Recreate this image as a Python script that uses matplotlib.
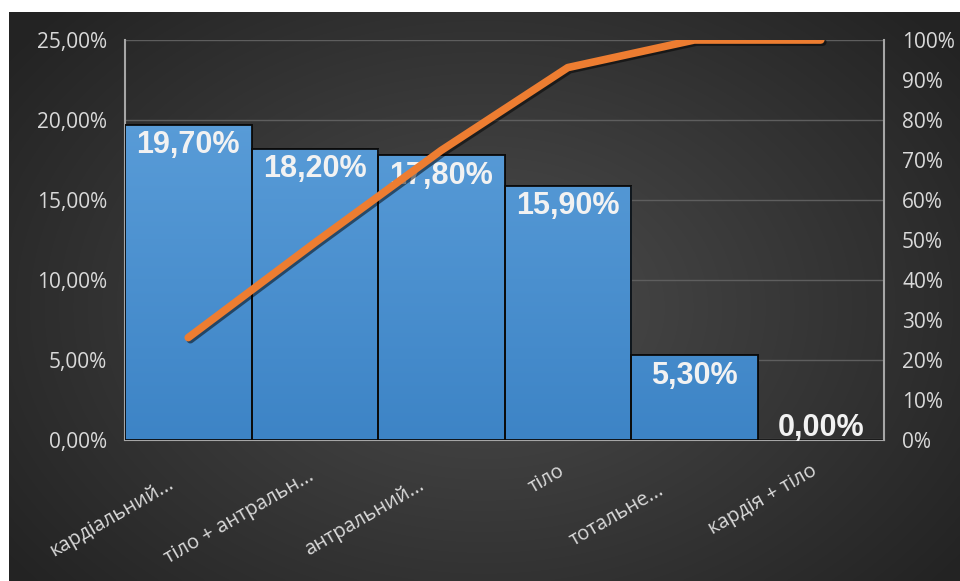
import matplotlib
matplotlib.use("Agg")
import matplotlib.pyplot as plt
import matplotlib.patheffects as pe
import matplotlib.transforms as mtransforms
import numpy as np
from matplotlib.ticker import FuncFormatter, MultipleLocator

CATEGORIES = ["кардіальний...", "тіло + антральн...", "антральний...", "тіло", "тотальне...", "кардія + тіло"]
SHARES = [19.70, 18.20, 17.80, 15.90, 5.30, 0.00]
CUMULATIVE = [25.6, 49.3, 72.4, 93.1, 100.0, 100.0]

# pixel offsets of each category label's right end from its tick (x right, y down)
LABEL_OFFSETS = [(-13, 47), (0, 39), (-16, 48), (-2, 34), (-29, 53), (-3, 34)]

TEXT_COLOR = "#d9d9d9"
AXIS_COLOR = "#a6a6a6"
GRID_COLOR = "#5e5e5e"
LINE_COLOR = "#ed7d31"
BAR_TOP = np.array([0x60, 0xa2, 0xdc]) / 255
BAR_BOTTOM = np.array([0x3d, 0x84, 0xc6]) / 255

plt.rcParams["font.family"] = ["Open Sans", "DejaVu Sans"]


def comma_pct(v, decimals=2):
    return f"{v:.{decimals}f}".replace(".", ",") + "%"


fig = plt.figure(figsize=(9.6, 5.81), dpi=100)
fig.patch.set_facecolor("white")

# dark panel with a soft radial light in the middle
bg = fig.add_axes([9 / 960, 0, 951 / 960, 569 / 581], zorder=-10)
yy, xx = np.mgrid[0:1:300j, 0:1:500j]
r = np.sqrt(((xx - 0.5) / 0.62) ** 2 + ((yy - 0.52) / 0.75) ** 2)
shade = np.clip(0.30 - 0.16 * r, 0.14, 0.30)
bg.imshow(np.dstack([shade] * 3), aspect="auto", extent=[0, 1, 0, 1], interpolation="bicubic")
bg.set_axis_off()

ax = fig.add_axes([125 / 960, 141 / 581, 759 / 960, 400 / 581])
ax.set_facecolor("none")
x = np.arange(len(CATEGORIES))
bars = ax.bar(x, SHARES, width=1.0, color=BAR_BOTTOM, edgecolor="#0b0b0b", linewidth=1.3, zorder=3)

# vertical gradient fill inside each bar
grad = np.linspace(0, 1, 256)[:, None, None]
grad_img = BAR_TOP * (1 - grad) + BAR_BOTTOM * grad
for b in bars:
    h = b.get_height()
    if h <= 0:
        continue
    x0 = b.get_x()
    im = ax.imshow(grad_img, aspect="auto", extent=[x0, x0 + b.get_width(), 0, 25], zorder=3.5,
                   interpolation="bilinear")
    im.set_clip_path(b)
    ax.bar(x0 + b.get_width() / 2, h, width=1.0, facecolor="none", edgecolor="#0b0b0b",
           linewidth=1.3, zorder=4)

for xi, v in zip(x, SHARES):
    if v > 0:
        ax.annotate(comma_pct(v), (xi, v), xytext=(0, -4), textcoords="offset points",
                    ha="center", va="top", fontsize=22, fontweight="bold",
                    family="Liberation Sans", color="#f2f2f2", zorder=6)
    else:
        ax.annotate(comma_pct(v), (xi, v), xytext=(0, -2), textcoords="offset points",
                    ha="center", va="bottom", fontsize=22, fontweight="bold",
                    family="Liberation Sans", color="#f2f2f2", zorder=6)

ax.set_xlim(-0.5, len(CATEGORIES) - 0.5)
ax.set_ylim(0, 25)
ax.yaxis.set_major_locator(MultipleLocator(5))
ax.yaxis.set_major_formatter(FuncFormatter(lambda v, _: comma_pct(v)))
ax.grid(axis="y", color=GRID_COLOR, linewidth=1.0, zorder=0)
ax.set_axisbelow(True)
ax.tick_params(axis="y", length=0, pad=13, labelsize=15, labelcolor=TEXT_COLOR)
ax.set_xticks(x)
ax.set_xticklabels([])
ax.tick_params(axis="x", length=0)

# rotated category labels, right end anchored below each tick
for xi, label, (dx, dy) in zip(x, CATEGORIES, LABEL_OFFSETS):
    trans = ax.get_xaxis_transform() + mtransforms.ScaledTranslation(dx / 100, -dy / 100, fig.dpi_scale_trans)
    ax.text(xi, 0, label, transform=trans, rotation=30, rotation_mode="anchor",
            ha="right", va="baseline", fontsize=14.5, color=TEXT_COLOR)

for side in ["top", "right"]:
    ax.spines[side].set_visible(False)
for side in ["left", "bottom"]:
    ax.spines[side].set_color(AXIS_COLOR)
    ax.spines[side].set_linewidth(1.5)

ax2 = ax.twinx()
ax2.set_ylim(0, 100)
ax2.yaxis.set_major_locator(MultipleLocator(10))
ax2.yaxis.set_major_formatter(FuncFormatter(lambda v, _: f"{v:.0f}%"))
ax2.tick_params(axis="y", length=0, pad=13, labelsize=15, labelcolor=TEXT_COLOR)
for side in ["top", "left", "bottom"]:
    ax2.spines[side].set_visible(False)
ax2.spines["right"].set_color(AXIS_COLOR)
ax2.spines["right"].set_linewidth(1.5)
ax2.plot(x, CUMULATIVE, color=LINE_COLOR, linewidth=5.5, solid_capstyle="round",
         solid_joinstyle="round", zorder=5,
         path_effects=[pe.SimpleLineShadow(offset=(1.5, -1.5), shadow_color="black", alpha=0.5),
                       pe.Normal()])

fig.savefig("out.png", dpi=100, facecolor="white")
